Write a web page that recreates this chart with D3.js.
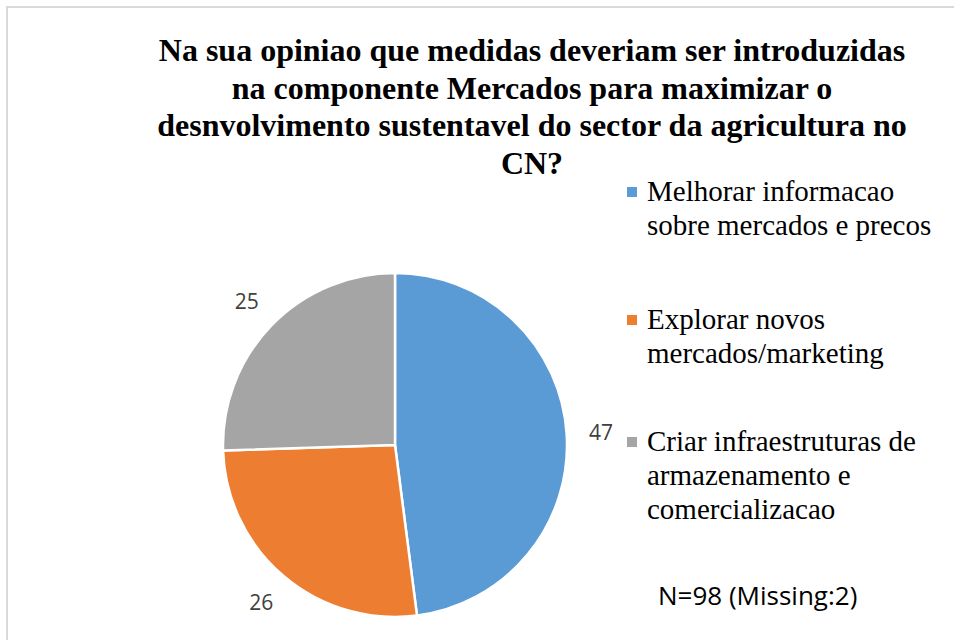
<!DOCTYPE html>
<html>
<head>
<meta charset="utf-8">
<script src="https://cdn.jsdelivr.net/npm/d3@7"></script>
<style>
  html, body { margin: 0; padding: 0; background: #fff; }
  svg { display: block; }
</style>
</head>
<body>
<svg id="chart" width="954" height="640"></svg>
<script>
const categories = [
  ["Melhorar informacao", "sobre mercados e precos"],
  ["Explorar novos", "mercados/marketing"],
  ["Criar infraestruturas de", "armazenamento e", "comercializacao"]
];
const values = [47, 26, 25];
const colors = ["#5B9BD5", "#ED7D31", "#A5A5A5"];
const titleLines = [
  "Na sua opiniao que medidas deveriam ser introduzidas",
  "na componente Mercados para maximizar o",
  "desnvolvimento sustentavel do sector da agricultura no",
  "CN?"
];
const note = "N=98 (Missing:2)";

const svg = d3.select("#chart");

// chart border
svg.append("rect")
  .attr("x", 7).attr("y", 7)
  .attr("width", 1000).attr("height", 1000)
  .attr("fill", "none")
  .attr("stroke", "#d9d9d9")
  .attr("stroke-width", 2);

// title
const title = svg.append("text")
  .attr("text-anchor", "middle")
  .attr("font-family", "'Liberation Serif', 'Times New Roman', serif")
  .attr("font-weight", "bold")
  .attr("font-size", 32)
  .attr("fill", "#000");
titleLines.forEach((t, i) => {
  title.append("tspan").attr("x", 532).attr("y", 61 + i * 37.5).text(t);
});

// pie
const cx = 395, cy = 445, R = 172;
const pie = d3.pie().sort(null).value(d => d)(values);
const arc = d3.arc().innerRadius(0).outerRadius(R);
const labelArc = d3.arc().innerRadius(R * 1.2).outerRadius(R * 1.2);

const g = svg.append("g").attr("transform", `translate(${cx},${cy})`);
g.selectAll("path.slice")
  .data(pie)
  .join("path")
  .attr("class", "slice")
  .attr("d", arc)
  .attr("fill", (d, i) => colors[i])
  .attr("stroke", "#fff")
  .attr("stroke-width", 2.5)
  .attr("stroke-linejoin", "round");

g.selectAll("text.lbl")
  .data(pie)
  .join("text")
  .attr("class", "lbl")
  .attr("transform", d => `translate(${labelArc.centroid(d)})`)
  .attr("text-anchor", "middle")
  .attr("dominant-baseline", "central")
  .attr("font-family", "'Open Sans', 'Liberation Sans', sans-serif")
  .attr("font-size", 21)
  .attr("fill", "#404040")
  .text(d => d.value);

// legend
const legendTop = [201, 329, 451];
const lg = svg.append("g");
categories.forEach((lines, i) => {
  lg.append("rect")
    .attr("x", 627).attr("y", legendTop[i] - 14)
    .attr("width", 10).attr("height", 10)
    .attr("fill", colors[i]);
  const t = lg.append("text")
    .attr("font-family", "'Liberation Serif', 'Times New Roman', serif")
    .attr("font-size", 29)
    .attr("fill", "#000");
  lines.forEach((l, j) => {
    t.append("tspan").attr("x", 647).attr("y", legendTop[i] + j * 34).text(l);
  });
});

// note
svg.append("text")
  .attr("x", 658).attr("y", 605)
  .attr("font-family", "'Open Sans', 'Liberation Sans', sans-serif")
  .attr("font-size", 26)
  .attr("fill", "#000")
  .text(note);
</script>
</body>
</html>
